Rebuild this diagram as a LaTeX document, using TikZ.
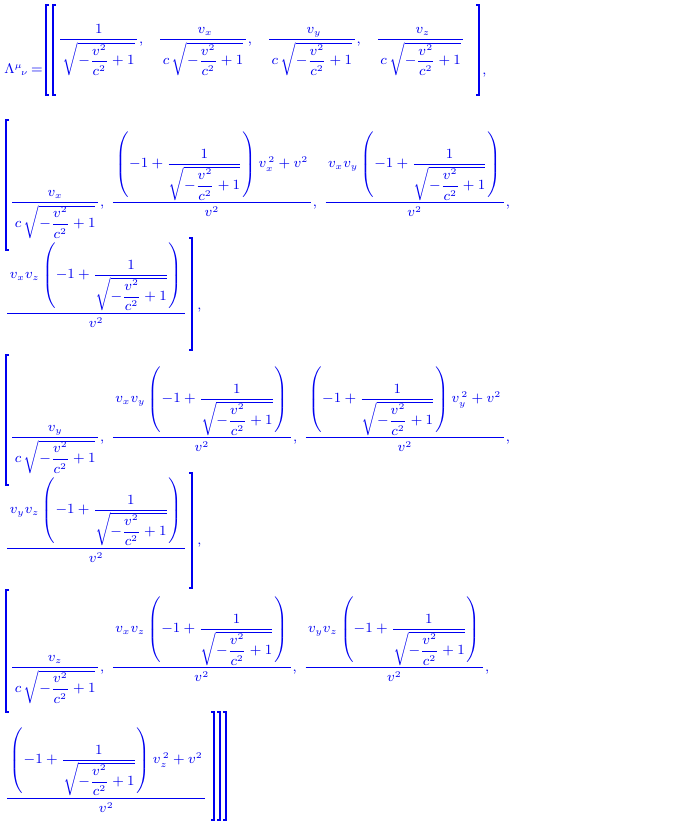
\documentclass[tikz,border=0pt]{standalone}
\usepackage{amsmath}
\usepackage{xcolor}
\usepackage{tikz}
\definecolor{mapleblue}{RGB}{0,0,240}
\newcommand{\rt}{\sqrt{-\dfrac{v^2}{c^2}+1}}
\newcommand{\gam}{\dfrac{1}{\rt}}
\newcommand{\pgam}{\left(-1+\gam\right)}
\newcommand{\fr}[2]{\dfrac{\,#1\,}{\,#2\,}}
\tikzset{
  entry/.style={anchor=west,inner sep=0pt,text=mapleblue,font=\fontsize{7.8}{9}\selectfont},
  brack/.style={draw=mapleblue,line width=0.6pt}
}
\begin{document}
\begin{tikzpicture}[x=0.02cm,y=-0.02cm]
	\useasboundingbox (0,0) rectangle (680,825);
	% row 1
	\node[entry] (lam) at (4,70) {$\Lambda^{\mu}{}_{\!\nu}\,{=}$};
	\node[entry] (rowa) at (58,50) {$\fr{1}{\rt},\;\;\;\fr{\;v_x}{c\,\rt},\;\;\;\fr{\;v_y}{c\,\rt},\;\;\;\fr{\;v_z}{c\,\rt}$};
	\node[entry] (ca) at (482,75) {,};
	\draw[brack] (49,5) -- (46,5) -- (46,95) -- (49,95);
	\draw[brack] (56,5) -- (53,5) -- (53,95) -- (56,95);
	\draw[brack] (476,5) -- (479,5) -- (479,95) -- (476,95);
	% row 2
	\node[entry] (rowb) at (10,185) {$\fr{v_x}{c\,\rt},\;\fr{\pgam v_x^{\,2}+v^2}{v^2},\;\fr{v_xv_y\pgam}{v^2},$};
	\node[entry] (rowc) at (5,285) {$\fr{v_xv_z\pgam}{v^2}$};
	\node[entry] (cc) at (197,310) {,};
	\draw[brack] (9,120) -- (6,120) -- (6,250) -- (9,250);
	\draw[brack] (189,238) -- (192,238) -- (192,350) -- (189,350);
	% row 3
	\node[entry] (rowd) at (10,420) {$\fr{v_y}{c\,\rt},\;\fr{v_xv_y\pgam}{v^2},\;\fr{\pgam v_y^{\,2}+v^2}{v^2},$};
	\node[entry] (rowe) at (5,520) {$\fr{v_yv_z\pgam}{v^2}$};
	\node[entry] (ce) at (197,545) {,};
	\draw[brack] (9,355) -- (6,355) -- (6,485) -- (9,485);
	\draw[brack] (189,473) -- (192,473) -- (192,588) -- (189,588);
	% row 4
	\node[entry] (rowf) at (10,650) {$\fr{v_z}{c\,\rt},\;\fr{v_xv_z\pgam}{v^2},\;\fr{v_yv_z\pgam}{v^2},$};
	\node[entry] (rowg) at (5,770) {$\fr{\pgam v_z^{\,2}+v^2}{v^2}$};
	\draw[brack] (9,590) -- (6,590) -- (6,712) -- (9,712);
	\draw[brack] (211,712) -- (214,712) -- (214,820) -- (211,820);
	\draw[brack] (217,712) -- (220,712) -- (220,820) -- (217,820);
	\draw[brack] (223,712) -- (226,712) -- (226,820) -- (223,820);
\end{tikzpicture}
\end{document}
